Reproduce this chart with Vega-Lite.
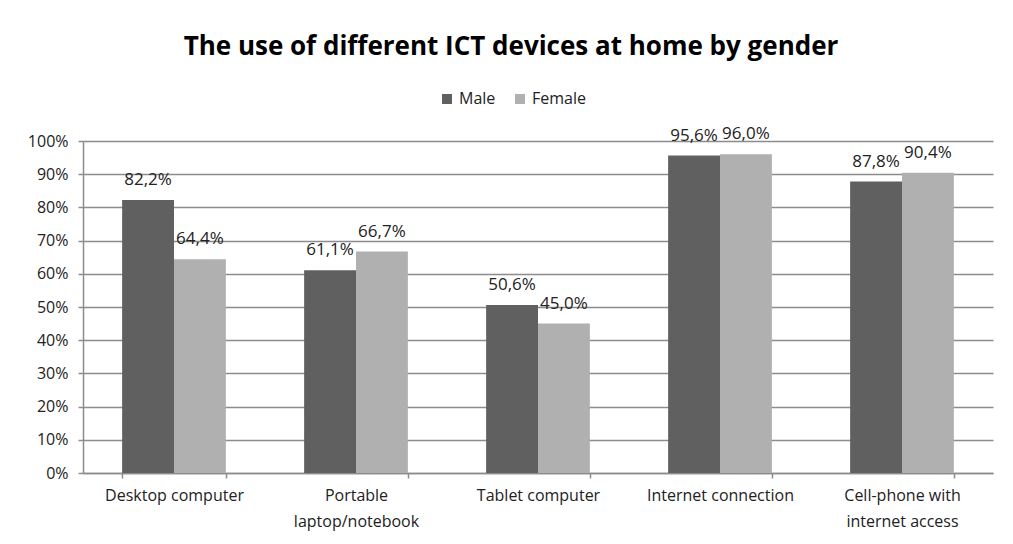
{
  "$schema": "https://vega.github.io/schema/vega-lite/v6.json",
  "autosize": "none",
  "width": 910,
  "height": 332,
  "padding": {"left": 83, "top": 141, "right": 20, "bottom": 71},
  "background": "white",
  "config": {
    "view": {"stroke": null},
    "locale": {"number": {"decimal": ",", "thousands": ".", "grouping": [3], "currency": ["", "€"]}},
    "font": "Open Sans"
  },
  "title": {
    "text": "The use of different ICT devices at home by gender",
    "font": "Open Sans",
    "fontSize": 26,
    "fontWeight": "bold",
    "color": "#000000",
    "anchor": "middle",
    "frame": "group",
    "dx": -27,
    "offset": 31
  },
  "data": {
    "values": [
      {"device": "Desktop computer", "gender": "Male", "value": 0.822},
      {"device": "Desktop computer", "gender": "Female", "value": 0.644},
      {"device": "Portable laptop/notebook", "gender": "Male", "value": 0.611},
      {"device": "Portable laptop/notebook", "gender": "Female", "value": 0.667},
      {"device": "Tablet computer", "gender": "Male", "value": 0.506},
      {"device": "Tablet computer", "gender": "Female", "value": 0.450},
      {"device": "Internet connection", "gender": "Male", "value": 0.956},
      {"device": "Internet connection", "gender": "Female", "value": 0.960},
      {"device": "Cell-phone with internet access", "gender": "Male", "value": 0.878},
      {"device": "Cell-phone with internet access", "gender": "Female", "value": 0.904}
    ]
  },
  "encoding": {
    "x": {
      "field": "device",
      "type": "nominal",
      "sort": ["Desktop computer", "Portable laptop/notebook", "Tablet computer", "Internet connection", "Cell-phone with internet access"],
      "scale": {"paddingInner": 0.43, "paddingOuter": 0.215},
      "axis": {
        "title": null,
        "labelAngle": 0,
        "labelFont": "Open Sans",
        "labelFontSize": 16,
        "labelColor": "#222222",
        "labelPadding": 9,
        "labelLineHeight": 26,
        "labelLimit": 300,
        "tickBand": "extent",
        "tickSize": 5,
        "tickColor": "#8c8c8c",
        "domainColor": "#8c8c8c",
        "domainWidth": 1.5,
        "tickWidth": 1.5,
        "labelExpr": "datum.label == 'Portable laptop/notebook' ? ['Portable', 'laptop/notebook'] : datum.label == 'Cell-phone with internet access' ? ['Cell-phone with', 'internet access'] : datum.label"
      }
    },
    "xOffset": {"field": "gender", "type": "nominal", "sort": ["Male", "Female"], "scale": {"paddingInner": 0, "paddingOuter": 0}},
    "y": {
      "field": "value",
      "type": "quantitative",
      "scale": {"domain": [0, 1], "nice": false},
      "axis": {
        "title": null,
        "format": ".0%",
        "values": [0, 0.1, 0.2, 0.3, 0.4, 0.5, 0.6, 0.7, 0.8, 0.9, 1],
        "labelFont": "Open Sans",
        "labelFontSize": 16,
        "labelColor": "#222222",
        "labelPadding": 10,
        "tickSize": 5,
        "tickColor": "#8c8c8c",
        "tickWidth": 1.5,
        "domainColor": "#8c8c8c",
        "domainWidth": 1.5,
        "grid": true,
        "gridColor": "#8c8c8c",
        "gridWidth": 1.5
      }
    }
  },
  "layer": [
    {
      "mark": {"type": "bar"},
      "encoding": {
        "color": {
          "field": "gender",
          "type": "nominal",
          "sort": ["Male", "Female"],
          "scale": {"domain": ["Male", "Female"], "range": ["#606060", "#b0b0b0"]},
          "legend": {
            "title": null,
            "orient": "none",
            "direction": "horizontal",
            "legendX": 356,
            "legendY": -50,
            "symbolType": "square",
            "symbolSize": 100,
            "symbolStrokeWidth": 0,
            "labelFont": "Open Sans",
            "labelFontSize": 16,
            "labelColor": "#222222",
            "columnPadding": 16,
            "labelOffset": 4
          }
        }
      }
    },
    {
      "mark": {"type": "text", "baseline": "alphabetic", "dy": -15, "font": "Open Sans", "fontSize": 17, "color": "#222222"},
      "encoding": {
        "text": {"field": "value", "type": "quantitative", "format": ".1%"}
      }
    }
  ]
}
